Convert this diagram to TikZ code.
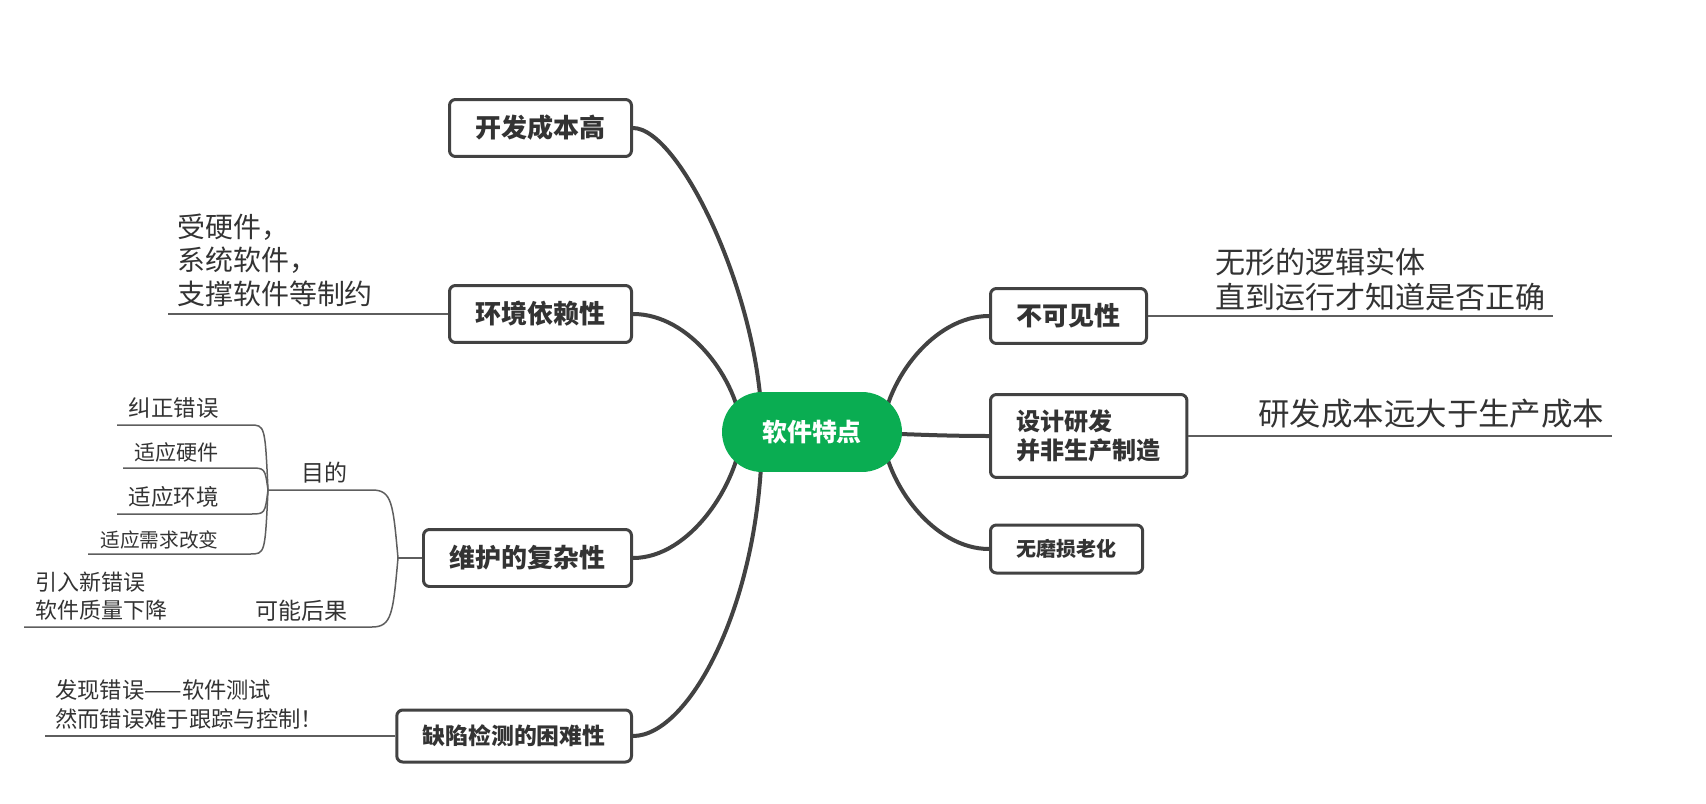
\documentclass[tikz,border=0pt]{standalone}
\usepackage{fontspec}
\setmainfont{Noto Sans CJK SC}
\usetikzlibrary{backgrounds}
\definecolor{rootgreen}{RGB}{10,173,82}
\definecolor{ink}{RGB}{51,51,51}
\definecolor{edge}{RGB}{66,66,66}

\begin{document}
\begin{tikzpicture}[
    x=0.02cm,
    y=-0.02cm,
    topic/.style={draw=edge, line width=0.06cm, rounded corners=0.12cm,
      fill=white, inner xsep=0.52cm, inner ysep=0pt, text=ink,
      font=\bfseries\fontsize{14.8pt}{17pt}\selectfont},
    branch/.style={draw=edge, line width=0.08cm},
    twig/.style={draw=edge!85!white, line width=0.03cm},
    note/.style={inner sep=0pt, text=ink, align=left}
  ]
  \useasboundingbox (0,0) rectangle (1706,804);

  \node[fill=rootgreen, rounded corners=0.8cm, minimum width=3.6cm,
    minimum height=1.6cm, text=white,
    font=\bfseries\fontsize{14.2pt}{17pt}\selectfont] (root) at (812,432) {软件特点};

  % left topics
  \node[topic, anchor=east, minimum height=1.14cm] (cost) at (633,128) {开发成本高};
  \node[topic, anchor=east, minimum height=1.14cm] (env) at (633,314) {环境依赖性};
  \node[topic, anchor=east, minimum height=1.14cm] (maint) at (633,558) {维护的复杂性};
  \node[topic, anchor=east, minimum height=1.04cm,
    font=\bfseries\fontsize{13pt}{15pt}\selectfont] (defect) at (633,736) {缺陷检测的困难性};

  % right topics
  \node[topic, anchor=west, minimum height=1.1cm] (invis) at (989,316) {不可见性};
  \node[topic, anchor=west, minimum height=1.66cm, align=left,
    font=\bfseries\fontsize{13.7pt}{16.5pt}\selectfont] (design) at (989,436) {设计研发\\并非生产制造};
  \node[topic, anchor=west, minimum height=0.96cm,
    font=\bfseries\fontsize{11.4pt}{14pt}\selectfont] (wear) at (989,549) {无磨损老化};

  \begin{scope}[on background layer]
    \draw[branch] ([xshift=-1cm]root.center) .. controls +(0,-132) and +(47,0) .. (cost.east);
    \draw[branch] ([xshift=-1.4cm]root.center) .. controls +(-4,-52) and +(57,0) .. (env.east);
    \draw[branch] ([xshift=-1.4cm]root.center) .. controls +(-4,52) and +(57,0) .. (maint.east);
    \draw[branch] ([xshift=-1cm]root.center) .. controls +(0,168) and +(57,0) .. (defect.east);
    \draw[branch] ([xshift=1.4cm]root.center) .. controls +(4,-52) and +(-55,0) .. (invis.west);
    \draw[branch] (root.center) to[out=0,in=180] (design.west);
    \draw[branch] ([xshift=1.4cm]root.center) .. controls +(4,52) and +(-55,0) .. (wear.west);
  \end{scope}

  % notes
  \coordinate (envEnd) at (168,314);
  \coordinate (invisEnd) at (1553,316);
  \coordinate (designEnd) at (1612,436);
  \coordinate (defectEnd) at (45,736);
  \draw[twig] (env.west) -- (envEnd);
  \draw[twig] (invis.east) -- (invisEnd);
  \draw[twig] (design.east) -- (designEnd);
  \draw[twig] (defect.west) -- (defectEnd);

  \node[note, anchor=base west, font=\fontsize{15.9pt}{18.8pt}\selectfont] (envNote)
    at (177,304) {受硬件，\\系统软件，\\支撑软件等制约};
  \node[note, anchor=base west, font=\fontsize{17.1pt}{19.9pt}\selectfont] (invisNote)
    at (1215,308) {无形的逻辑实体\\直到运行才知道是否正确};
  \node[note, anchor=base west, font=\fontsize{17.9pt}{21pt}\selectfont] (designNote)
    at (1258,425) {研发成本远大于生产成本};
  \node[note, anchor=base west, font=\fontsize{12.7pt}{16.5pt}\selectfont] (defectNote)
    at (55,727) {发现错误——软件测试\\然而错误难于跟踪与控制！};

  % maintenance sub-tree
  \coordinate (mj) at (398,558);
  \coordinate (aim) at (268,490);
  \coordinate (aimBend) at (372,490);
  \coordinate (riskBend) at (372,627);
  \coordinate (riskEnd) at (24,627);
  \draw[twig] (maint.west) -- (mj);
  \draw[twig] (mj) .. controls +(-5,-55) and +(20,0) .. (aimBend) -- (aim);
  \draw[twig] (mj) .. controls +(-5,55) and +(20,0) .. (riskBend) -- (riskEnd);
  \foreach \ly/\lx in {425/117, 468/123, 514/117, 554/88}
    \draw[twig] (aim) .. controls (265,\ly) and (265,\ly) .. (250,\ly) -- (\lx,\ly);

  \node[note, anchor=base west, font=\fontsize{13.1pt}{15pt}\selectfont] (aimText) at (301,481) {目的};
  \node[note, anchor=base west, font=\fontsize{13.1pt}{15pt}\selectfont] (riskText) at (255,619) {可能后果};
  \node[note, anchor=base west, font=\fontsize{12.5pt}{15.4pt}\selectfont] (riskNote)
    at (35,618) {引入新错误\\软件质量下降};
  \node[note, anchor=base east, font=\fontsize{12.8pt}{15pt}\selectfont] (fixText) at (219,416) {纠正错误};
  \node[note, anchor=base east, font=\fontsize{12pt}{15pt}\selectfont] (hwText) at (219,460) {适应硬件};
  \node[note, anchor=base east, font=\fontsize{12.8pt}{15pt}\selectfont] (envText) at (219,505) {适应环境};
  \node[note, anchor=base east, font=\fontsize{11.2pt}{14pt}\selectfont] (reqText) at (219,547) {适应需求改变};
\end{tikzpicture}
\end{document}
